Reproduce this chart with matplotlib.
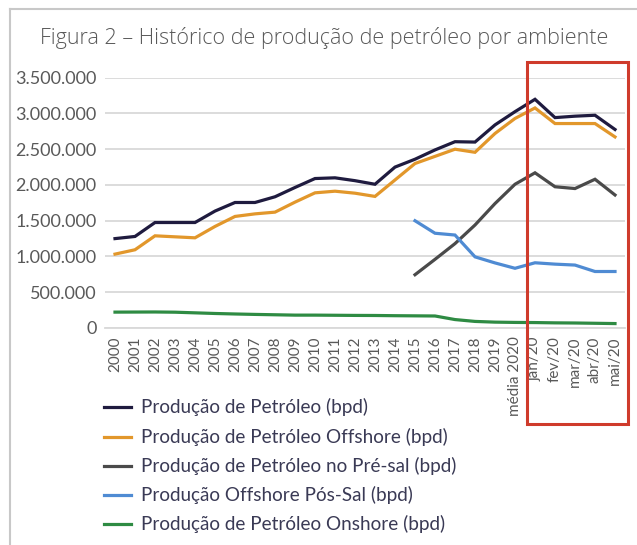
import numpy as np
import matplotlib
matplotlib.use("Agg")
import matplotlib.pyplot as plt
from matplotlib.lines import Line2D
from matplotlib.patches import Rectangle

nan = np.nan

categories = [str(y) for y in range(2000, 2020)] + [
    "média 2020", "jan/20", "fev/20", "mar/20", "abr/20", "mai/20"]

producao_total = [1250000, 1280000, 1475000, 1475000, 1475000, 1635000, 1755000,
                  1755000, 1835000, 1965000, 2090000, 2100000, 2060000, 2010000,
                  2250000, 2360000, 2490000, 2605000, 2600000, 2840000, 3025000,
                  3198000, 2942000, 2962000, 2975000, 2776000]
producao_offshore = [1033000, 1094000, 1289000, 1275000, 1261000, 1420000, 1560000,
                     1596000, 1620000, 1760000, 1890000, 1913000, 1885000, 1840000,
                     2070000, 2300000, 2400000, 2500000, 2457000, 2720000, 2930000,
                     3077000, 2859000, 2859000, 2859000, 2672000]
producao_presal = [nan] * 15 + [745000, 960000, 1180000, 1440000, 1740000, 2010000,
                                2170000, 1975000, 1950000, 2080000, 1860000]
producao_possal = [nan] * 15 + [1500000, 1325000, 1300000, 995000, 910000, 835000,
                                912000, 893000, 880000, 790000, 790000]
producao_onshore = [222000, 223000, 224000, 221000, 212000, 203000, 196000, 190000,
                    185000, 180000, 180000, 178000, 176000, 175000, 172000, 170000,
                    168000, 118000, 92000, 82000, 78000, 76000, 72000, 70000, 66000,
                    62000]

series_labels = ["Produção de Petróleo (bpd)",
                 "Produção de Petróleo Offshore (bpd)",
                 "Produção de Petróleo no Pré-sal (bpd)",
                 "Produção Offshore Pós-Sal (bpd)",
                 "Produção de Petróleo Onshore (bpd)"]
series_colors = ["#1f1b3f", "#e2972b", "#4a4a4a", "#4f8bd3", "#2e8b43"]
series_data = [producao_total, producao_offshore, producao_presal,
               producao_possal, producao_onshore]

yticks = [0, 500000, 1000000, 1500000, 2000000, 2500000, 3000000, 3500000]
ytick_labels = ["0", "500.000", "1.000.000", "1.500.000", "2.000.000",
                "2.500.000", "3.000.000", "3.500.000"]

W, H = 637, 545
fig = plt.figure(figsize=(W / 100, H / 100), dpi=100)
ax = fig.add_axes([105 / W, 1 - 328 / H, 520 / W, (328 - 77.7) / H])

x = np.arange(len(categories))
for data, color, label in zip(series_data, series_colors, series_labels):
    ax.plot(x, np.array(data, dtype=float), color=color, lw=2.3,
            solid_joinstyle="miter", label=label)

ax.set_xlim(-0.5, len(categories) - 0.5)
ax.set_ylim(0, 3500000)
ax.set_yticks(yticks)
ax.set_yticklabels(ytick_labels, fontsize=13, color="#595959", family="Lato")
ax.set_xticks(x)
ax.set_xticklabels(categories, rotation=90, fontsize=11, color="#595959",
                   family="Lato")
ax.tick_params(length=0, pad=6)
ax.grid(axis="y", color="#d9d9d9", lw=1.3)
ax.set_axisbelow(True)
for s in ["top", "right", "left"]:
    ax.spines[s].set_visible(False)
ax.spines["bottom"].set_color("#d9d9d9")
ax.spines["bottom"].set_linewidth(1.3)

fig.text(324 / W, 1 - 38 / H,
         "Figura 2 – Histórico de produção de petróleo por ambiente",
         ha="center", va="center", fontsize=15.5, color="#595959",
         family="Open Sans", fontweight="light")

# legend (manual layout)
leg_y = [407, 437, 466, 495, 524]
for yy, color, label in zip(leg_y, series_colors, series_labels):
    fig.add_artist(Line2D([104 / W, 131 / W], [1 - yy / H, 1 - yy / H],
                          color=color, lw=2.3, transform=fig.transFigure))
    fig.text(141 / W, 1 - yy / H, label, ha="left", va="center", fontsize=13.6,
             color="#3a3a55", family="Lato")

# highlight box
fig.add_artist(Rectangle((527 / W, 1 - 424 / H), (628 - 527) / W, (424 - 62) / H,
                         fill=False, edgecolor="#cf3b2c", lw=2.2,
                         transform=fig.transFigure))

# outer frame lines
fig.add_artist(Line2D([10 / W, 10 / W], [0, 1 - 9 / H], color="#c8c8c8", lw=1.5,
                      transform=fig.transFigure))
fig.add_artist(Line2D([10 / W, 1], [1 - 9 / H, 1 - 9 / H], color="#c8c8c8", lw=1.5,
                      transform=fig.transFigure))

fig.savefig("out.png", dpi=100)
